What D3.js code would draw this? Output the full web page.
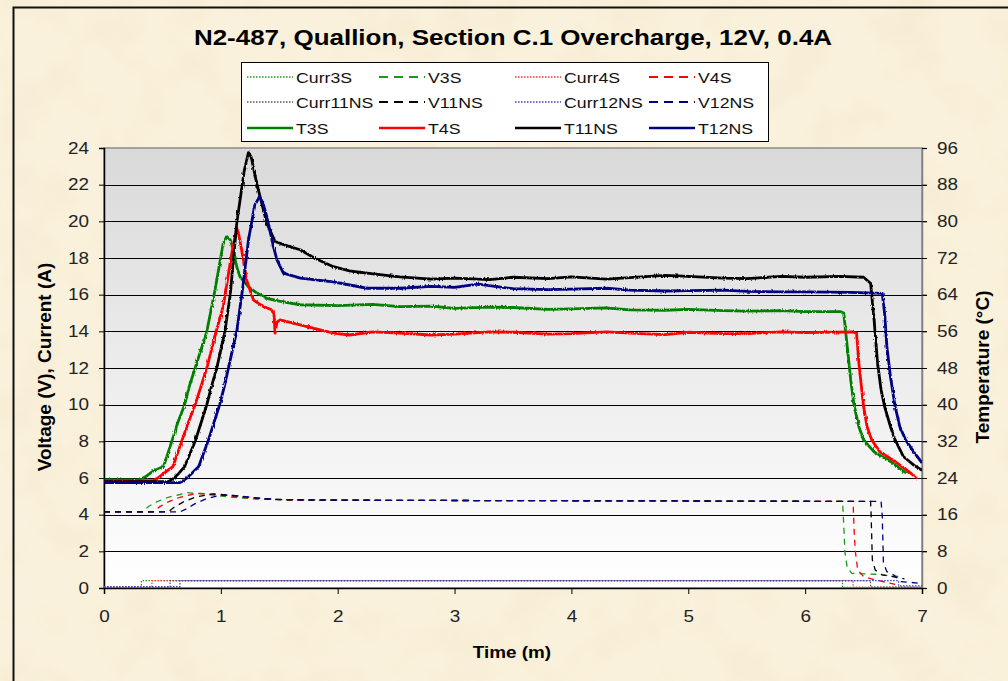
<!DOCTYPE html>
<html>
<head>
<meta charset="utf-8">
<script src="https://cdn.jsdelivr.net/npm/d3@7"></script>
<style>
  html, body { margin: 0; padding: 0; background: #f8eed6; }
  svg { display: block; font-family: "Liberation Sans", Arial, sans-serif; }
</style>
</head>
<body>
<svg id="vis" width="1008" height="681"></svg>
<script>
// ---- data (time in minutes) ----
// currents and voltages use the left axis (V, A), temperatures the right axis (degC)
const curr3S = [[0,0.05],[0.32,0.05],[0.32,0.4],[6.32,0.4],[6.32,0.03],[6.9,0.03]];
const curr4S = [[0,0.05],[0.41,0.05],[0.41,0.4],[6.41,0.4],[6.41,0.03],[6.95,0.03]];
const curr11NS = [[0,0.05],[0.565,0.05],[0.565,0.4],[6.56,0.4],[6.56,0.05],[7,0.05]];
const curr12NS = [[0,0.08],[0.65,0.08],[0.65,0.4],[6.8,0.4],[6.8,0.12],[7,0.12]];

const v3S = [[0,4.15],[0.33,4.15],[0.38,4.45],[0.45,4.7],[0.55,4.95],[0.65,5.1],[0.71,5.2],[0.82,5.15],
  [0.95,5.05],[1.1,4.95],[1.3,4.85],[1.6,4.8],[2.5,4.78],[4,4.76],[5.5,4.74],[6.32,4.72],[6.33,3.5],
  [6.34,2.0],[6.36,1.1],[6.4,0.8],[6.6,0.75],[6.82,0.62]];
const v4S = [[0,4.15],[0.42,4.15],[0.48,4.45],[0.55,4.7],[0.65,4.95],[0.75,5.1],[0.82,5.16],[0.95,5.1],
  [1.1,5.0],[1.3,4.88],[1.6,4.8],[2.5,4.78],[4,4.76],[5.5,4.74],[6.41,4.72],[6.42,3.0],[6.43,1.98],
  [6.45,0.98],[6.5,0.62],[6.6,0.44],[6.77,0.2]];
const v11NS = [[0,4.15],[0.55,4.15],[0.6,4.4],[0.68,4.7],[0.78,4.95],[0.88,5.08],[0.94,5.13],[1.05,5.08],
  [1.2,4.98],[1.4,4.85],[1.7,4.8],[2.5,4.78],[4,4.76],[5.5,4.74],[6.56,4.72],[6.565,3.9],[6.575,1.53],
  [6.6,0.98],[6.66,0.71],[6.75,0.62],[6.85,0.5]];
const v12NS = [[0,4.15],[0.65,4.15],[0.7,4.3],[0.78,4.6],[0.88,4.88],[0.97,5.02],[1.05,5.07],[1.15,5.02],
  [1.3,4.92],[1.5,4.82],[2.5,4.78],[4,4.76],[5.5,4.74],[6.65,4.72],[6.66,3.9],[6.67,1.35],[6.7,0.89],
  [6.76,0.71],[6.82,0.35],[7.0,0.25]];

const t3S = [[0,23.6],[0.3,23.6],[0.35,24.2],[0.42,25.5],[0.51,26.5],[0.58,32],[0.63,36],[0.69,40],
  [0.73,44],[0.78,48],[0.83,52],[0.88,56],[0.95,65],[1.02,75.2],[1.05,76.7],[1.08,76.0],[1.107,73.8],
  [1.136,70.1],[1.164,67.9],[1.236,65.7],[1.3,64.5],[1.393,63.2],[1.5,62.6],[1.678,61.8],[2.0,61.6],
  [2.3,61.9],[2.53,61.4],[2.8,61.5],[3.0,61.0],[3.3,61.3],[3.5,61.2],[3.8,60.8],[4.0,60.9],[4.3,61.1],
  [4.5,60.7],[4.8,60.6],[5.0,60.8],[5.3,60.5],[5.5,60.4],[5.8,60.5],[6.0,60.3],[6.3,60.3],[6.33,60.0],
  [6.36,52.7],[6.39,45.4],[6.42,39.6],[6.46,35.2],[6.5,32.3],[6.59,29.7],[6.73,27.6],[6.83,25.7],[6.87,25.0]];
const t4S = [[0,23.4],[0.42,23.4],[0.46,24.0],[0.52,25.2],[0.59,26.5],[0.665,32],[0.72,36],[0.78,40],
  [0.83,44],[0.88,48],[0.92,52],[0.96,56],[1.02,61.4],[1.093,73],[1.136,78.5],[1.15,77.5],[1.178,73.8],
  [1.22,67.2],[1.28,62.8],[1.364,61.4],[1.435,60.7],[1.455,59.5],[1.464,55.6],[1.48,58.0],[1.507,58.5],
  [1.678,57.4],[1.963,55.6],[2.1,55.2],[2.3,55.9],[2.53,55.6],[2.8,55.2],[3.0,55.4],[3.3,55.9],[3.5,55.8],
  [3.8,55.4],[4.0,55.5],[4.3,55.9],[4.5,55.6],[4.8,55.3],[5.0,55.8],[5.3,55.5],[5.5,55.5],[5.8,55.9],
  [6.0,55.7],[6.4,55.9],[6.44,55.6],[6.46,49],[6.5,39.6],[6.53,35.2],[6.57,32.3],[6.64,29.7],[6.77,27.6],
  [6.87,25.7],[6.96,23.9]];
const t11NS = [[0,23.2],[0.55,23.2],[0.59,23.8],[0.64,25],[0.69,26.5],[0.78,32],[0.83,36],[0.88,40],
  [0.92,44],[0.965,48],[1.0,52],[1.035,56],[1.08,64],[1.136,79.6],[1.2,91],[1.236,95],[1.26,94],
  [1.307,88.3],[1.393,79.6],[1.464,75.6],[1.55,74.8],[1.678,73.8],[1.8,72],[1.963,70.1],[2.1,69.2],
  [2.25,68.7],[2.53,67.9],[2.8,67.4],[3.0,67.6],[3.3,67.3],[3.5,67.8],[3.8,67.5],[4.0,67.9],[4.3,67.4],
  [4.5,67.7],[4.8,68.2],[5.0,68.0],[5.3,67.6],[5.5,67.5],[5.8,68.0],[6.0,67.8],[6.3,68.0],[6.5,67.8],
  [6.56,66.5],[6.59,58.5],[6.62,49],[6.65,43.2],[6.68,39.6],[6.73,35.2],[6.77,32.3],[6.84,28.7],
  [6.93,26.8],[7.0,25.7]];
const t12NS = [[0,23.0],[0.65,23.0],[0.7,23.8],[0.75,25],[0.81,26.5],[0.89,32],[0.94,36],[0.99,40],
  [1.03,44],[1.065,48],[1.1,52],[1.136,56],[1.19,66],[1.236,75.9],[1.29,83.5],[1.33,85.4],[1.36,84],
  [1.393,81],[1.45,74.5],[1.48,71.6],[1.535,68.7],[1.68,67.6],[1.963,66.8],[2.25,65.4],[2.53,65.4],
  [2.8,65.8],[3.0,65.6],[3.2,66.3],[3.5,65.3],[3.8,65.1],[4.0,65.2],[4.3,65.4],[4.5,65.0],[4.8,64.8],
  [5.0,64.9],[5.3,65.0],[5.5,64.7],[5.8,64.6],[6.0,64.6],[6.4,64.5],[6.66,64.3],[6.68,59.9],[6.7,52.6],
  [6.73,46.1],[6.77,39.6],[6.81,35.2],[6.86,32.3],[6.93,29.7],[7.0,27.3]];

const leftTicks = d3.range(0, 25, 2);
const rightTicks = d3.range(0, 97, 8);
const timeTicks = d3.range(0, 8, 1);

const series = [
  { name: "Curr3S", data: curr3S, axis: "L", color: "#1a9a1a", kind: "dot" },
  { name: "V3S", data: v3S, axis: "L", color: "#1a9a1a", kind: "dash" },
  { name: "Curr4S", data: curr4S, axis: "L", color: "#ff3030", kind: "dot" },
  { name: "V4S", data: v4S, axis: "L", color: "#ff0000", kind: "dash" },
  { name: "Curr11NS", data: curr11NS, axis: "L", color: "#555555", kind: "dot" },
  { name: "V11NS", data: v11NS, axis: "L", color: "#000000", kind: "dash" },
  { name: "Curr12NS", data: curr12NS, axis: "L", color: "#4040c0", kind: "dot" },
  { name: "V12NS", data: v12NS, axis: "L", color: "#000080", kind: "dash" },
  { name: "T3S", data: t3S, axis: "R", color: "#008000", kind: "solid" },
  { name: "T4S", data: t4S, axis: "R", color: "#ff0000", kind: "solid" },
  { name: "T11NS", data: t11NS, axis: "R", color: "#000000", kind: "solid" },
  { name: "T12NS", data: t12NS, axis: "R", color: "#000080", kind: "solid" }
];

const svg = d3.select("#vis");
const plot = { left: 104, right: 922, top: 148, bottom: 588 };
const STRETCH = 1.18; // the reference text is drawn a bit wider than plain Arial

const x = d3.scaleLinear().domain([0, 7]).range([plot.left, plot.right]);
const yL = d3.scaleLinear().domain([0, 24]).range([plot.bottom, plot.top]);
const yR = d3.scaleLinear().domain([0, 96]).range([plot.bottom, plot.top]);

function widen(sel, k) {
  sel.each(function() {
    let w = this.getComputedTextLength();
    d3.select(this).attr("textLength", w * k).attr("lengthAdjust", "spacingAndGlyphs");
  });
}

let defs = svg.append("defs");
let grad = defs.append("linearGradient").attr("id", "plotbg")
  .attr("x1", 0).attr("y1", 0).attr("x2", 0).attr("y2", 1);
grad.append("stop").attr("offset", "0%").attr("stop-color", "#d9d9d9");
grad.append("stop").attr("offset", "100%").attr("stop-color", "#ffffff");
defs.append("clipPath").attr("id", "clip").append("rect")
  .attr("x", plot.left).attr("y", plot.top - 2)
  .attr("width", plot.right - plot.left + 3).attr("height", plot.bottom - plot.top + 2);
// slight jitter so the temperature traces look like logged data
let rough = defs.append("filter").attr("id", "rough").attr("filterUnits", "userSpaceOnUse")
  .attr("x", 90).attr("y", 130).attr("width", 850).attr("height", 480);
rough.append("feTurbulence").attr("type", "fractalNoise").attr("baseFrequency", "0.9 0.25")
  .attr("numOctaves", 1).attr("seed", 4).attr("result", "noise");
rough.append("feDisplacementMap").attr("in", "SourceGraphic").attr("in2", "noise")
  .attr("scale", 3.2).attr("xChannelSelector", "R").attr("yChannelSelector", "G");
// parchment look of the chart background
let paper = defs.append("filter").attr("id", "paper").attr("filterUnits", "userSpaceOnUse")
  .attr("x", 0).attr("y", 0).attr("width", 1008).attr("height", 681);
paper.append("feTurbulence").attr("type", "fractalNoise").attr("baseFrequency", "0.018")
  .attr("numOctaves", 3).attr("seed", 7);
paper.append("feColorMatrix").attr("type", "matrix")
  .attr("values", "0 0 0 0 0.91  0 0 0 0 0.82  0 0 0 0 0.62  1.8 0 0 0 -0.78");

svg.append("rect").attr("width", 1008).attr("height", 681).attr("fill", "#faf1dc");
svg.append("rect").attr("width", 1008).attr("height", 681).attr("filter", "url(#paper)")
  .attr("opacity", 0.8);

// outer chart frame
svg.append("rect").attr("x", 13.5).attr("y", 7.5).attr("width", 1010).attr("height", 700)
  .attr("fill", "none").attr("stroke", "#111").attr("stroke-width", 2);

svg.append("text").attr("x", 513).attr("y", 45).attr("text-anchor", "middle")
  .attr("font-size", 22).attr("font-weight", "bold")
  .text("N2-487, Quallion, Section C.1 Overcharge, 12V, 0.4A")
  .call(widen, 1.18);

// plot area
svg.append("rect").attr("x", plot.left).attr("y", plot.top)
  .attr("width", plot.right - plot.left).attr("height", plot.bottom - plot.top)
  .attr("fill", "url(#plotbg)").attr("stroke", "#8c8c8c").attr("stroke-width", 1.5);

svg.append("g").selectAll("line")
  .data(leftTicks.filter(d => d > 0 && d < 24))
  .enter().append("line")
  .attr("x1", plot.left).attr("x2", plot.right + 5)
  .attr("y1", d => Math.round(yL(d)) + 0.5).attr("y2", d => Math.round(yL(d)) + 0.5)
  .attr("stroke", "#000").attr("stroke-width", 1);

// axes
let axL = svg.append("g").attr("transform", `translate(${plot.left},0)`)
  .call(d3.axisLeft(yL).tickValues(leftTicks).tickSize(5).tickPadding(10).tickFormat(d3.format("d")));
let axR = svg.append("g").attr("transform", `translate(${plot.right},0)`)
  .call(d3.axisRight(yR).tickValues(rightTicks).tickSize(5).tickPadding(10).tickFormat(d3.format("d")));
let axB = svg.append("g").attr("transform", `translate(0,${plot.bottom})`)
  .call(d3.axisBottom(x).tickValues(timeTicks).tickSize(6).tickPadding(17).tickFormat(d3.format("d")));
[axL, axR, axB].forEach(g => {
  g.selectAll("text").attr("font-size", 16).attr("fill", "#222")
    .attr("font-family", "'Liberation Sans', Arial, sans-serif")
    .call(widen, STRETCH);
  g.selectAll("line").attr("stroke", "#000");
});
axL.select(".domain").attr("stroke", "#000").attr("stroke-width", 1.5);
axB.select(".domain").attr("stroke", "#000").attr("stroke-width", 1.5);
axR.select(".domain").attr("stroke", "#808080").attr("stroke-width", 1.5);

svg.append("text").attr("transform", "translate(51,367) rotate(-90)")
  .attr("text-anchor", "middle").attr("font-size", 19).attr("font-weight", "bold")
  .text("Voltage (V), Current (A)");
svg.append("text").attr("transform", "translate(989,367) rotate(-90)")
  .attr("text-anchor", "middle").attr("font-size", 19).attr("font-weight", "bold")
  .text("Temperature (\u00B0C)");
svg.append("text").attr("x", 512).attr("y", 658).attr("text-anchor", "middle")
  .attr("font-size", 16).attr("font-weight", "bold").text("Time (m)")
  .call(widen, STRETCH);

// series
function styleLine(sel, s) {
  sel.attr("fill", "none").attr("stroke", s.color);
  if (s.kind === "dot") sel.attr("stroke-width", 1.2).attr("stroke-dasharray", "1.5,1.5");
  else if (s.kind === "dash") sel.attr("stroke-width", 1.3).attr("stroke-dasharray", "6,5");
  else sel.attr("stroke-width", 2.8).attr("stroke-linejoin", "round");
  return sel;
}

let lines = svg.append("g").attr("clip-path", "url(#clip)");
series.forEach(s => {
  let yScale = s.axis === "L" ? yL : yR;
  let line = d3.line().x(d => x(d[0])).y(d => yScale(d[1]));
  let p = lines.append("path").datum(s.data).attr("d", line).call(styleLine, s);
  if (s.kind === "solid") p.attr("filter", "url(#rough)");
});

// legend
let lg = svg.append("g");
lg.append("rect").attr("x", 241.5).attr("y", 62.5).attr("width", 527).attr("height", 79)
  .attr("fill", "#fff").attr("stroke", "#000").attr("stroke-width", 1);
const colX = [296, 428, 564, 698];
const rowY = [77, 102, 128];
series.forEach((s, i) => {
  let cx = colX[i % 4], cy = rowY[Math.floor(i / 4)];
  lg.append("line").attr("x1", cx - 49).attr("x2", cx - 3).attr("y1", cy).attr("y2", cy)
    .call(styleLine, s).attr("stroke-width", s.kind === "solid" ? 2.5 : s.kind === "dash" ? 1.8 : 1.4)
    .attr("stroke-dasharray", s.kind === "dash" ? "9,6" : s.kind === "dot" ? "1.5,1.5" : null);
  lg.append("text").attr("x", cx).attr("y", cy + 5.5).attr("font-size", 15).attr("fill", "#111")
    .text(s.name).call(widen, STRETCH);
});
</script>
</body>
</html>
